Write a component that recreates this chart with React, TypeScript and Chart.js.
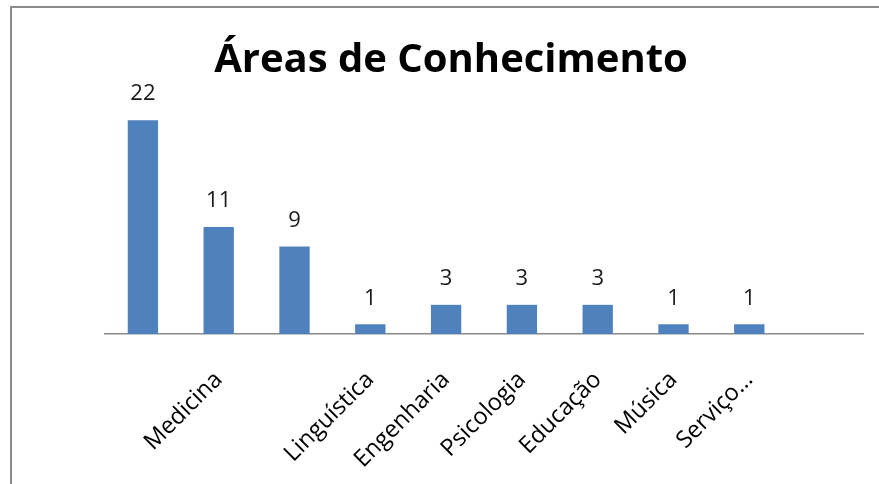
import React, { useEffect, useRef } from "react";
import { Chart, registerables } from "chart.js";

Chart.register(...registerables);

const title = "Áreas de Conhecimento";
const categories = ["", "Medicina", "", "Linguística", "Engenharia", "Psicologia", "Educação", "Música", "Serviço…", ""];
const values: (number | null)[] = [22, 11, 9, 1, 3, 3, 3, 1, 1, null];
const yMax = 25;

const FONT = "'Open Sans', 'DejaVu Sans', sans-serif";

const valueLabels = {
  id: "valueLabels",
  afterDatasetsDraw(chart: any) {
    const ctx = chart.ctx;
    const meta = chart.getDatasetMeta(0);
    ctx.save();
    ctx.font = `22px ${FONT}`;
    ctx.fillStyle = "#1a1a1a";
    ctx.textAlign = "center";
    ctx.textBaseline = "middle";
    meta.data.forEach((bar: any, i: number) => {
      const v = values[i];
      if (v === null || v === undefined) return;
      ctx.fillText(String(v), bar.x, bar.y - 26);
    });
    ctx.restore();
  },
};

const titleDraw = {
  id: "titleDraw",
  afterDraw(chart: any) {
    const ctx = chart.ctx;
    ctx.save();
    ctx.font = `bold 40px ${FONT}`;
    ctx.fillStyle = "#000";
    ctx.textAlign = "center";
    ctx.textBaseline = "alphabetic";
    ctx.fillText(title, 451, 72);
    ctx.restore();
  },
};

export default function App() {
  const ref = useRef<HTMLCanvasElement>(null);
  useEffect(() => {
    if (!ref.current) return;
    const chart = new Chart(ref.current, {
      type: "bar",
      data: {
        labels: categories,
        datasets: [
          {
            data: values,
            backgroundColor: "#4f81bd",
            barPercentage: 0.4,
            categoryPercentage: 1,
          },
        ],
      },
      options: {
        animation: false,
        responsive: false,
        maintainAspectRatio: false,
        layout: { padding: { left: 105, right: 16, top: 91, bottom: 0 } },
        plugins: {
          legend: { display: false },
          tooltip: { enabled: false },
          title: { display: false },
        },
        scales: {
          x: {
            grid: { display: false, drawTicks: false },
            border: { display: true, color: "#8a8a8a", width: 1.5 },
            ticks: {
              color: "#000",
              font: { family: FONT, size: 23.5 },
              minRotation: 45,
              maxRotation: 45,
              autoSkip: false,
              padding: 32,
            },
            afterFit(scale: any) {
              scale.height = 150;
            },
          },
          y: {
            display: false,
            min: 0,
            max: yMax,
          },
        },
      },
      plugins: [valueLabels, titleDraw],
    });
    return () => chart.destroy();
  }, []);

  return (
    <div style={{ position: "absolute", left: 0, top: 0, width: 879, height: 484, background: "#fff", overflow: "hidden" }}>
      <canvas ref={ref} width={879} height={484} style={{ position: "absolute", left: 0, top: 0, width: 879, height: 484 }} />
      <div
        style={{
          position: "absolute",
          left: 10,
          top: 6,
          width: 900,
          height: 500,
          borderLeft: "2px solid #8c8c8c",
          borderTop: "2px solid #8c8c8c",
          pointerEvents: "none",
        }}
      />
    </div>
  );
}
